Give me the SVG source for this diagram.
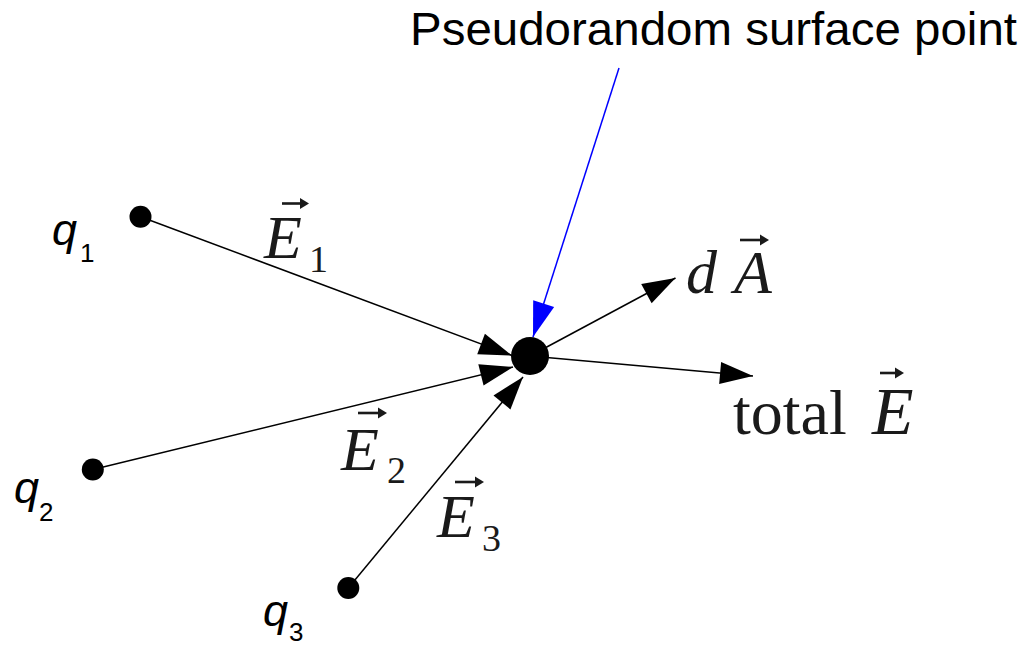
<svg xmlns="http://www.w3.org/2000/svg" width="1026" height="646" viewBox="0 0 1026 646">
<style>
.sans{font-family:"Liberation Sans",Arial,sans-serif;fill:#000}
.q{font-family:"Liberation Sans",Arial,sans-serif;font-style:italic;font-size:45px;fill:#000}
.sub{font-family:"Liberation Sans",Arial,sans-serif;font-size:26px;fill:#000}
.ser{font-family:"Liberation Serif","Times New Roman",serif;fill:#1a1a1a}
.it{font-style:italic}
.big{font-size:62px}
.sm{font-size:38px}
.conn{stroke:#000;stroke-width:1.5;fill:none;marker-end:url(#ah)}
.vec{stroke:#1a1a1a;stroke-width:2.6;fill:none}
.vh{fill:#1a1a1a}
</style>
<defs>
<marker id="ah" markerUnits="userSpaceOnUse" markerWidth="40" markerHeight="30" refX="33" refY="11" orient="auto" overflow="visible">
<polygon points="0,0 33,11 0,22" fill="#000"/>
</marker>
<marker id="ahb" markerUnits="userSpaceOnUse" markerWidth="40" markerHeight="30" refX="35" refY="11" orient="auto" overflow="visible">
<polygon points="0,0 35,11 0,22" fill="#0000ff"/>
</marker>
</defs>
<rect width="1026" height="646" fill="#fff"/>
<g id="connectors">
<line class="conn" x1="140.5" y1="216.7" x2="512" y2="355.5"/>
<line class="conn" x1="93" y1="469.5" x2="513" y2="367"/>
<line class="conn" x1="348.3" y1="588" x2="523" y2="377"/>
<line class="conn" x1="530" y1="356" x2="675.5" y2="278"/>
<line class="conn" x1="530" y1="356" x2="753" y2="376"/>
<line x1="619" y1="68" x2="533" y2="337" stroke="#0000ff" stroke-width="1.5" marker-end="url(#ahb)"/>
</g>
<g id="title">
<text class="sans" x="410" y="45" font-size="47" textLength="607" lengthAdjust="spacingAndGlyphs">Pseudorandom surface point</text>
</g>
<g id="point">
<circle cx="530" cy="356" r="19" fill="#000"/>
</g>
<g id="q1">
<circle cx="140.5" cy="216.7" r="11" fill="#000"/>
<text class="q" x="52" y="245">q</text>
<text class="sub" x="80" y="262">1</text>
</g>
<g id="q2">
<circle cx="92.8" cy="469.5" r="11" fill="#000"/>
<text class="q" x="14" y="503">q</text>
<text class="sub" x="39" y="521">2</text>
</g>
<g id="q3">
<circle cx="348.3" cy="588" r="11" fill="#000"/>
<text class="q" x="263" y="626">q</text>
<text class="sub" x="289" y="641">3</text>
</g>
<g id="labelE1">
<text class="ser it big" x="264" y="258">E</text>
<text class="ser sm" x="309" y="272">1</text>
<line class="vec" x1="282" y1="203.5" x2="302" y2="203.5"/>
<polygon class="vh" points="300,198 309,203.5 300,209"/>
</g>
<g id="labelE2">
<text class="ser it big" x="341" y="470">E</text>
<text class="ser sm" x="387" y="483">2</text>
<line class="vec" x1="358" y1="413" x2="380" y2="413"/>
<polygon class="vh" points="378,407.5 387,413 378,418.5"/>
</g>
<g id="labelE3">
<text class="ser it big" x="437" y="537">E</text>
<text class="ser sm" x="482" y="551">3</text>
<line class="vec" x1="455" y1="482" x2="477" y2="482"/>
<polygon class="vh" points="475,476.5 484,482 475,487.5"/>
</g>
<g id="labeldA">
<text class="ser it big" x="686" y="293">d</text>
<text class="ser it big" x="734" y="293">A</text>
<line class="vec" x1="740" y1="240" x2="762" y2="240"/>
<polygon class="vh" points="760,234.5 769,240 760,245.5"/>
</g>
<g id="labelTotal">
<text class="ser" x="733" y="434" font-size="64">total</text>
<text class="ser it" x="872" y="434" font-size="68">E</text>
<line class="vec" x1="880" y1="373" x2="897" y2="373"/>
<polygon class="vh" points="895,367.5 904,373 895,378.5"/>
</g>
</svg>
